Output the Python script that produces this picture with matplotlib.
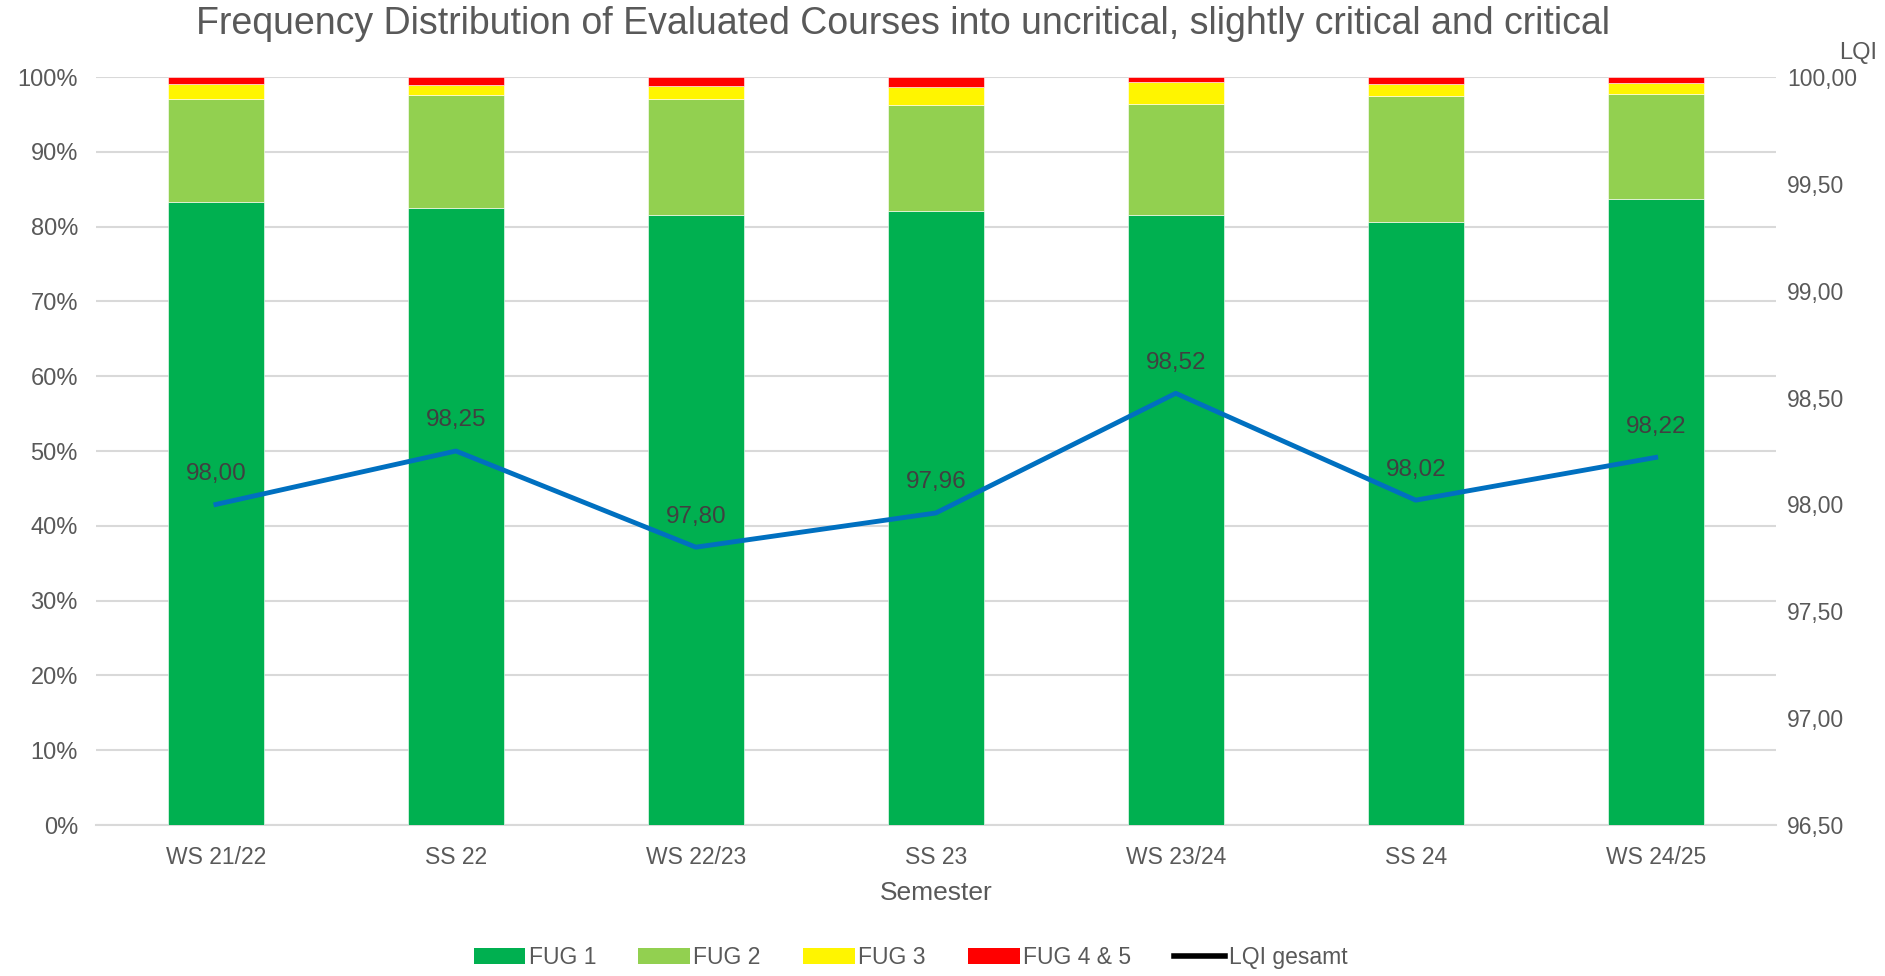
import numpy as np
import matplotlib
matplotlib.use("Agg")
import matplotlib.pyplot as plt
from matplotlib.patches import Patch
from matplotlib.lines import Line2D

plt.rcParams['font.family'] = ['Liberation Sans', 'DejaVu Sans']

# data
semesters = ['WS 21/22', 'SS 22', 'WS 22/23', 'SS 23', 'WS 23/24', 'SS 24', 'WS 24/25']
fug1 = [83.3, 82.5, 81.6, 82.1, 81.5, 80.6, 83.7]
fug2 = [13.8, 15.1, 15.5, 14.1, 14.9, 16.9, 14.0]
fug3 = [1.9, 1.3, 1.7, 2.45, 2.95, 1.5, 1.45]
fug45 = [1.0, 1.1, 1.2, 1.35, 0.65, 1.0, 0.85]
lqi = [98.00, 98.25, 97.80, 97.96, 98.52, 98.02, 98.22]

txt = '#595959'
grid = '#D9D9D9'
colors = ['#00B050', '#92D050', '#FFF500', '#FF0000']
names = ['FUG 1', 'FUG 2', 'FUG 3', 'FUG 4 & 5']

fig = plt.figure(figsize=(18.85, 9.76), dpi=100)
ax = fig.add_axes([0.0509, 0.1547, 0.8911, 0.7664])

x = np.arange(len(semesters))
bottom = np.zeros(len(semesters))
for vals, c in zip([fug1, fug2, fug3, fug45], colors):
    vals = np.array(vals) / 100
    ax.bar(x, vals, 0.4, bottom=bottom, color=c, edgecolor='white', linewidth=0.4, zorder=3)
    bottom += vals

ax.set_ylim(0, 1)
ax.set_xlim(-0.5, len(semesters) - 0.5)
ax.set_yticks(np.arange(0, 1.01, 0.1))
ax.set_yticklabels([f'{int(round(v*100))}%' for v in np.arange(0, 1.01, 0.1)])
ax.set_xticks(x)
ax.set_xticklabels(semesters)
ax.grid(axis='y', color=grid, linewidth=1.5, zorder=0)
for s in ['top', 'left', 'right']:
    ax.spines[s].set_visible(False)
ax.spines['bottom'].set_color(grid)
ax.spines['bottom'].set_linewidth(1.5)
ax.tick_params(axis='y', length=0, pad=13, labelsize=17, labelcolor=txt)
ax.tick_params(axis='x', length=0, pad=15, labelsize=16.5, labelcolor=txt)
ax.set_xlabel('Semester', fontsize=19, color=txt, labelpad=9)

ax2 = ax.twinx()
ax2.set_ylim(96.5, 100.0)
ax2.set_yticks(np.arange(96.5, 100.01, 0.5))
ax2.set_yticklabels([f'{v:.2f}'.replace('.', ',') for v in np.arange(96.5, 100.01, 0.5)])
ax2.tick_params(axis='y', length=0, pad=8, labelsize=16.5, labelcolor=txt)
for s in ax2.spines.values():
    s.set_visible(False)
ax2.plot(x, lqi, color='#0070C0', linewidth=3.5, zorder=5)
for xi, v in zip(x, lqi):
    ax2.annotate(f'{v:.2f}'.replace('.', ','), (xi, v), xytext=(0, 22), textcoords='offset points',
                 ha='center', va='center', fontsize=17.5, color='#404040')
fig.text(0.996, 0.946, 'LQI', ha='right', va='center', fontsize=17, color=txt)

fig.suptitle('Frequency Distribution of Evaluated Courses into uncritical, slightly critical and critical',
             fontsize=27, color=txt, x=0.479, y=0.975, va='center')

handles = [Patch(facecolor=c, label=n) for c, n in zip(colors, names)]
handles.append(Line2D([0], [0], color='black', linewidth=4, label='LQI gesamt'))
fig.legend(handles=handles, loc='center', bbox_to_anchor=(0.483, 0.019), ncol=5, frameon=False,
           fontsize=16.5, labelcolor=txt, handlelength=2.25, handleheight=0.7, handletextpad=0.15,
           columnspacing=1.85)

fig.savefig('out.png', dpi=100)
